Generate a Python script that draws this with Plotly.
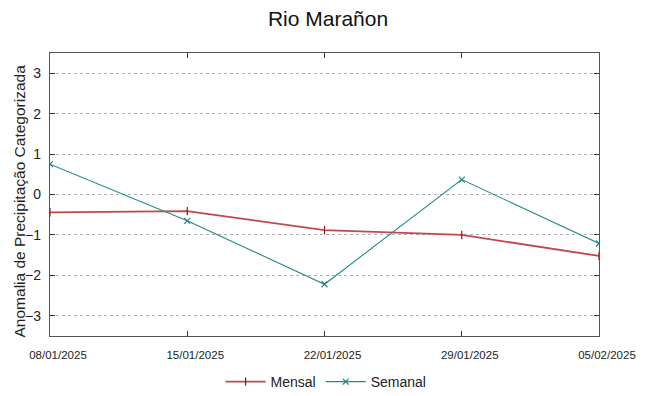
import plotly.graph_objects as go

dates = ["2025-01-08", "2025-01-15", "2025-01-22", "2025-01-29", "2025-02-05"]
tick_labels = ["08/01/2025", "15/01/2025", "22/01/2025", "29/01/2025", "05/02/2025"]
mensal = [-0.44, -0.41, -0.88, -1.00, -1.52]
semanal = [0.75, -0.65, -2.22, 0.37, -1.21]
y_ticks = [-3, -2, -1, 0, 1, 2, 3]

FONT = "Liberation Sans"
W, H = 640, 388

fig = go.Figure()
fig.add_trace(go.Scatter(
    x=dates, y=mensal, name="Mensal", mode="lines+markers",
    line=dict(color="#c04a4a", width=1.8),
    marker=dict(symbol="line-ns", size=6, line=dict(color="#a00c0c", width=1.2)),
))
fig.add_trace(go.Scatter(
    x=dates, y=semanal, name="Semanal", mode="lines+markers",
    line=dict(color="#238b8b", width=1.1),
    marker=dict(symbol="x-thin", size=6, line=dict(color="#1a7f7f", width=1.1)),
))

fig.update_layout(
    width=W, height=H,
    margin=dict(l=42, r=49, t=45, b=60, autoexpand=False),
    paper_bgcolor="white", plot_bgcolor="white",
    title=dict(text="Rio Marañon", x=0.5, xanchor="center", y=1 - 11 / H, yanchor="middle",
               pad=dict(t=0, b=0), font=dict(family=FONT, size=21, color="#111")),
    font=dict(family=FONT, color="#222"),
    showlegend=True,
    legend=dict(orientation="h", x=0.497, xanchor="center", xref="container",
                y=1 - 374 / H, yanchor="middle", yref="container",
                font=dict(family=FONT, size=14, color="#222"), itemwidth=40),
    annotations=[dict(
        text="Anomalia de Precipitação Categorizada", textangle=-90,
        xref="paper", yref="paper", x=-0.0556, y=0.477,
        xanchor="center", yanchor="middle", showarrow=False,
        font=dict(family=FONT, size=15.5, color="#222"),
    )],
)
fig.update_xaxes(
    type="date", range=[dates[0], dates[-1]], automargin=False,
    tickvals=dates, ticktext=tick_labels, ticklabelstandoff=8, ticklabelshift=8,
    tickfont=dict(family=FONT, size=11.5, color="#222"),
    ticks="inside", ticklen=5, tickcolor="#333",
    showline=True, linecolor="#555", linewidth=1.3, mirror="ticks",
    showgrid=False, zeroline=False,
)
fig.update_yaxes(
    range=[-3.5, 3.5], tickvals=y_ticks, automargin=False, ticklabelstandoff=5,
    tickfont=dict(family=FONT, size=14, color="#222"),
    ticks="inside", ticklen=5, tickcolor="#333",
    showline=True, linecolor="#555", linewidth=1.3, mirror="ticks",
    showgrid=True, gridcolor="#b0b0b0", griddash="dot", gridwidth=1,
    zeroline=False,
)

fig.write_html("out.html")
